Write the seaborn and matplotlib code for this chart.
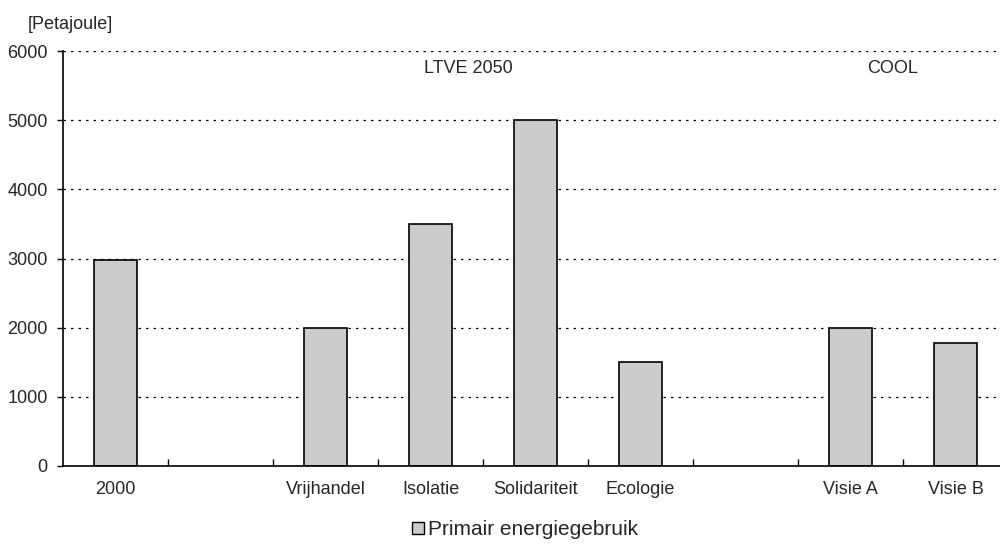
import numpy as np
import pandas as pd
import matplotlib
matplotlib.use("Agg")
import matplotlib.pyplot as plt
from matplotlib.patches import Patch
import seaborn as sns

sns.set_style("white")
plt.rcParams['font.family'] = ['Liberation Sans', 'DejaVu Sans']

# slot order on the x axis (two empty slots as spacers)
order = ['2000', ' ', 'Vrijhandel', 'Isolatie', 'Solidariteit', 'Ecologie', '  ', 'Visie A', 'Visie B']
categories = ['2000', 'Vrijhandel', 'Isolatie', 'Solidariteit', 'Ecologie', 'Visie A', 'Visie B']
values = [2975, 2000, 3500, 5000, 1500, 2000, 1780]
groups = ['LTVE 2050', 'COOL']
group_pos = [3.36, 7.40]
yticks = [0, 1000, 2000, 3000, 4000, 5000, 6000]

df = pd.DataFrame({'scenario': categories, 'PJ': values})

fig = plt.figure(figsize=(10, 5.45), dpi=100)
ax = fig.add_axes([0.063, 0.145, 0.945, 0.761])

sns.barplot(data=df, x='scenario', y='PJ', order=order, color='#cccccc',
            edgecolor='black', linewidth=1.2, width=0.41, saturation=1, ax=ax)

ax.set_ylim(0, 6000)
ax.set_xlim(-0.5, len(order) - 0.5)
ax.set_yticks(yticks)
ax.set_yticklabels([str(v) for v in yticks], fontsize=13)
ax.yaxis.grid(True, color='black', linestyle=(0, (2, 4)), linewidth=0.9)
ax.set_axisbelow(True)

ax.set_xticks(range(len(order)))
ax.set_xticklabels([o.strip() for o in order], fontsize=13)
ax.tick_params(axis='x', which='major', bottom=True, length=0, pad=11)
ax.set_xticks(np.arange(0.5, len(order) - 0.5, 1), minor=True)
ax.tick_params(axis='x', which='minor', bottom=True, direction='in', length=5, width=1, color='black')
ax.tick_params(axis='y', left=True, length=4, width=1, color='black', direction='out', pad=7)

for s in ['top', 'right']:
    ax.spines[s].set_visible(False)
for s in ['left', 'bottom']:
    ax.spines[s].set_color('black')
    ax.spines[s].set_linewidth(1.2)

ax.set_xlabel('')
ax.set_ylabel('')

for g, p in zip(groups, group_pos):
    ax.text(p, 5750, g, ha='center', va='center', fontsize=13)

fig.text(0.028, 0.955, '[Petajoule]', fontsize=13, ha='left', va='center')

handle = Patch(facecolor='#cccccc', edgecolor='black', linewidth=1)
fig.legend([handle], ['Primair energiegebruik'], loc='center', bbox_to_anchor=(0.525, 0.028),
           frameon=False, fontsize=15, handlelength=0.55, handleheight=0.55, handletextpad=0.2)

fig.savefig('out.png', dpi=100)
